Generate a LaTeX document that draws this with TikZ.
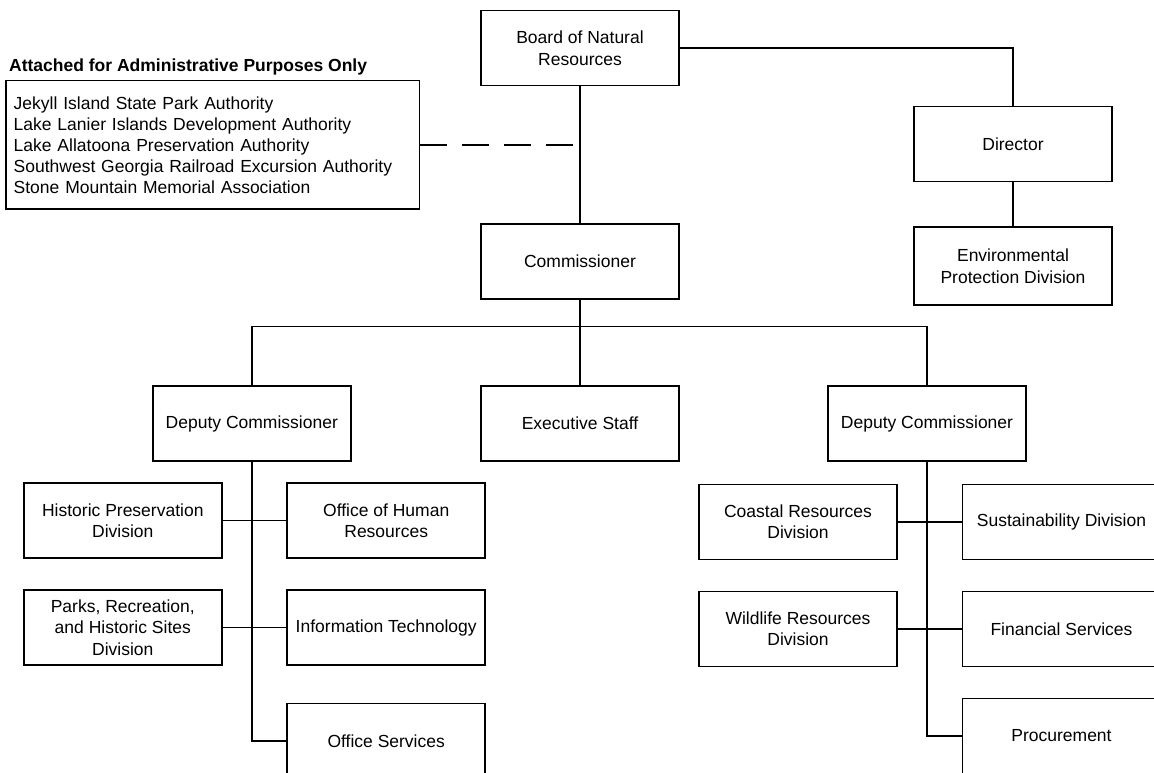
\documentclass[tikz,border=0pt]{standalone}
\usepackage{fontspec}
\setmainfont{Liberation Sans}
\begin{document}
\begin{tikzpicture}[x=1pt,y=-1pt,
  box/.style={draw=black, line width=1.5pt, fill=white, minimum width=198pt, minimum height=75pt,
    align=center, inner sep=2pt, font=\fontsize{17.5}{21.5}\selectfont},
  wire/.style={draw=black, line width=1.5pt}]
\useasboundingbox (0,0) rectangle (1154,773);
\fill[white] (0,0) rectangle (1154,773);
\clip (0,0) rectangle (1154,773);

% nodes
\node[box] (board) at (580,48) {Board of Natural\\Resources};
\node[box, minimum width=413.6pt, minimum height=128.3pt, text width=398pt, align=left, inner xsep=7.8pt,
  font=\fontsize{17.5}{21}\selectfont] (attached) at (212.7,144.9)
  {Jekyll Island State Park Authority\\Lake Lanier Islands Development Authority\\Lake Allatoona Preservation Authority\\Southwest Georgia Railroad Excursion Authority\\Stone Mountain Memorial Association};
\node[anchor=base west, inner sep=0pt, font=\fontsize{17.5}{21}\selectfont\bfseries] (title) at (9,72) {Attached for Administrative Purposes Only};
\node[box] (dir) at (1013,144) {Director};
\node[box, minimum height=78pt] (epd) at (1013,266.2) {Environmental\\Protection Division};
\node[box] (comm) at (580,261.5) {Commissioner};
\node[box] (depl) at (251.8,423.6) {Deputy Commissioner};
\node[box] (exec) at (580,423.6) {Executive Staff};
\node[box] (depr) at (927,423.6) {Deputy Commissioner};
\node[box] (hpd) at (122.8,520.5) {Historic Preservation\\Division};
\node[box] (ohr) at (386.2,520.5) {Office of Human\\Resources};
\node[box] (parks) at (122.8,627.5) {Parks, Recreation,\\and Historic Sites\\Division};
\node[box] (it) at (386.2,627.5) {Information Technology};
\node[box] (offs) at (386.2,741.2) {Office Services};
\node[box] (coast) at (798,521.8) {Coastal Resources\\Division};
\node[box] (sust) at (1061.5,521.8) {Sustainability Division};
\node[box] (wild) at (798,628.8) {Wildlife Resources\\Division};
\node[box] (fin) at (1061.5,628.8) {Financial Services};
\node[box] (proc) at (1061.5,735.8) {Procurement};

\coordinate (bus) at (580,326.7);
\coordinate (dashend) at (573,144.9);

% connectors
\draw[wire] (board.south) -- (comm.north);
\draw[wire] (board.east) -| (dir.north);
\draw[wire] (dir.south) -- (epd.north);
\draw[wire, dash pattern=on 27pt off 15pt] (attached.east) -- (dashend);
\draw[wire] (comm.south) -- (exec.north);
\draw[wire] (depl.north) |- (bus) -| (depr.north);
\draw[wire] (depl.south) |- (offs.west);
\draw[wire] (hpd.east) -- (ohr.west);
\draw[wire] (parks.east) -- (it.west);
\draw[wire] (depr.south) |- (proc.west);
\draw[wire] (coast.east) -- (sust.west);
\draw[wire] (wild.east) -- (fin.west);
\end{tikzpicture}
\end{document}
